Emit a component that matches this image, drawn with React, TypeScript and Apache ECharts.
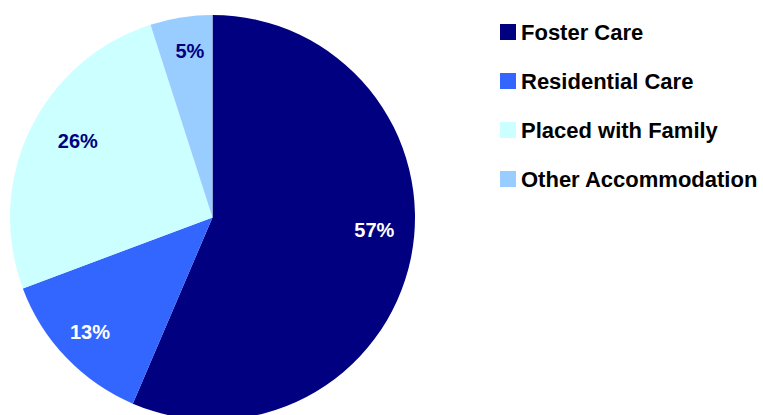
import React, { useEffect, useRef } from "react";
import * as echarts from "echarts";

const categories = ["Foster Care", "Residential Care", "Placed with Family", "Other Accommodation"];
const values = [57, 13, 26, 5];
const colors = ["#000080", "#3366FF", "#CCFFFF", "#99CCFF"];
const labelColors = ["#FFFFFF", "#FFFFFF", "#000080", "#000080"];

export default function App() {
  const ref = useRef<HTMLDivElement>(null);
  useEffect(() => {
    const chart = echarts.init(ref.current!, undefined, { renderer: "svg" });
    const data = categories.map((name, i) => ({
      name,
      value: values[i],
      itemStyle: { color: colors[i] },
    }));
    const labelData = categories.map((name, i) => ({
      name,
      value: values[i],
      itemStyle: { color: "rgba(0,0,0,0)" },
      label: { color: labelColors[i] },
    }));
    const nudges: Record<number, { dx?: number; dy?: number }> = {
      0: { dy: -21 },
      1: { dx: -3 },
      2: { dx: 14, dy: -4 },
      3: { dx: 3, dy: -3 },
    };
    chart.setOption({
      animation: false,
      legend: {
        orient: "vertical",
        left: 500,
        top: 21,
        padding: 0,
        itemWidth: 16,
        itemHeight: 16,
        itemGap: 27,
        icon: "rect",
        selectedMode: false,
        data: categories,
        textStyle: {
          fontFamily: "Liberation Sans, Arial, sans-serif",
          fontWeight: "bold",
          fontSize: 22,
          color: "#000000",
        },
      },
      series: [
        {
          type: "pie",
          center: [212.5, 217.5],
          radius: [0, 202.5],
          startAngle: 90,
          clockwise: true,
          label: { show: false },
          labelLine: { show: false },
          emphasis: { disabled: true },
          silent: true,
          data,
        },
        {
          type: "pie",
          center: [212.5, 217.5],
          radius: [122, 202.5],
          startAngle: 90,
          clockwise: true,
          silent: true,
          emphasis: { disabled: true },
          legendHoverLink: false,
          label: {
            show: true,
            position: "inside",
            formatter: "{c}%",
            fontFamily: "Liberation Sans, Arial, sans-serif",
            fontWeight: "bold",
            fontSize: 20,
          },
          labelLine: { show: false },
          labelLayout: (params: any) => nudges[params.dataIndex] || {},
          data: labelData,
        },
      ],
    });
    return () => chart.dispose();
  }, []);
  return (
    <div
      ref={ref}
      style={{ position: "fixed", left: 0, top: 0, width: 763, height: 415, background: "#fff" }}
    />
  );
}
